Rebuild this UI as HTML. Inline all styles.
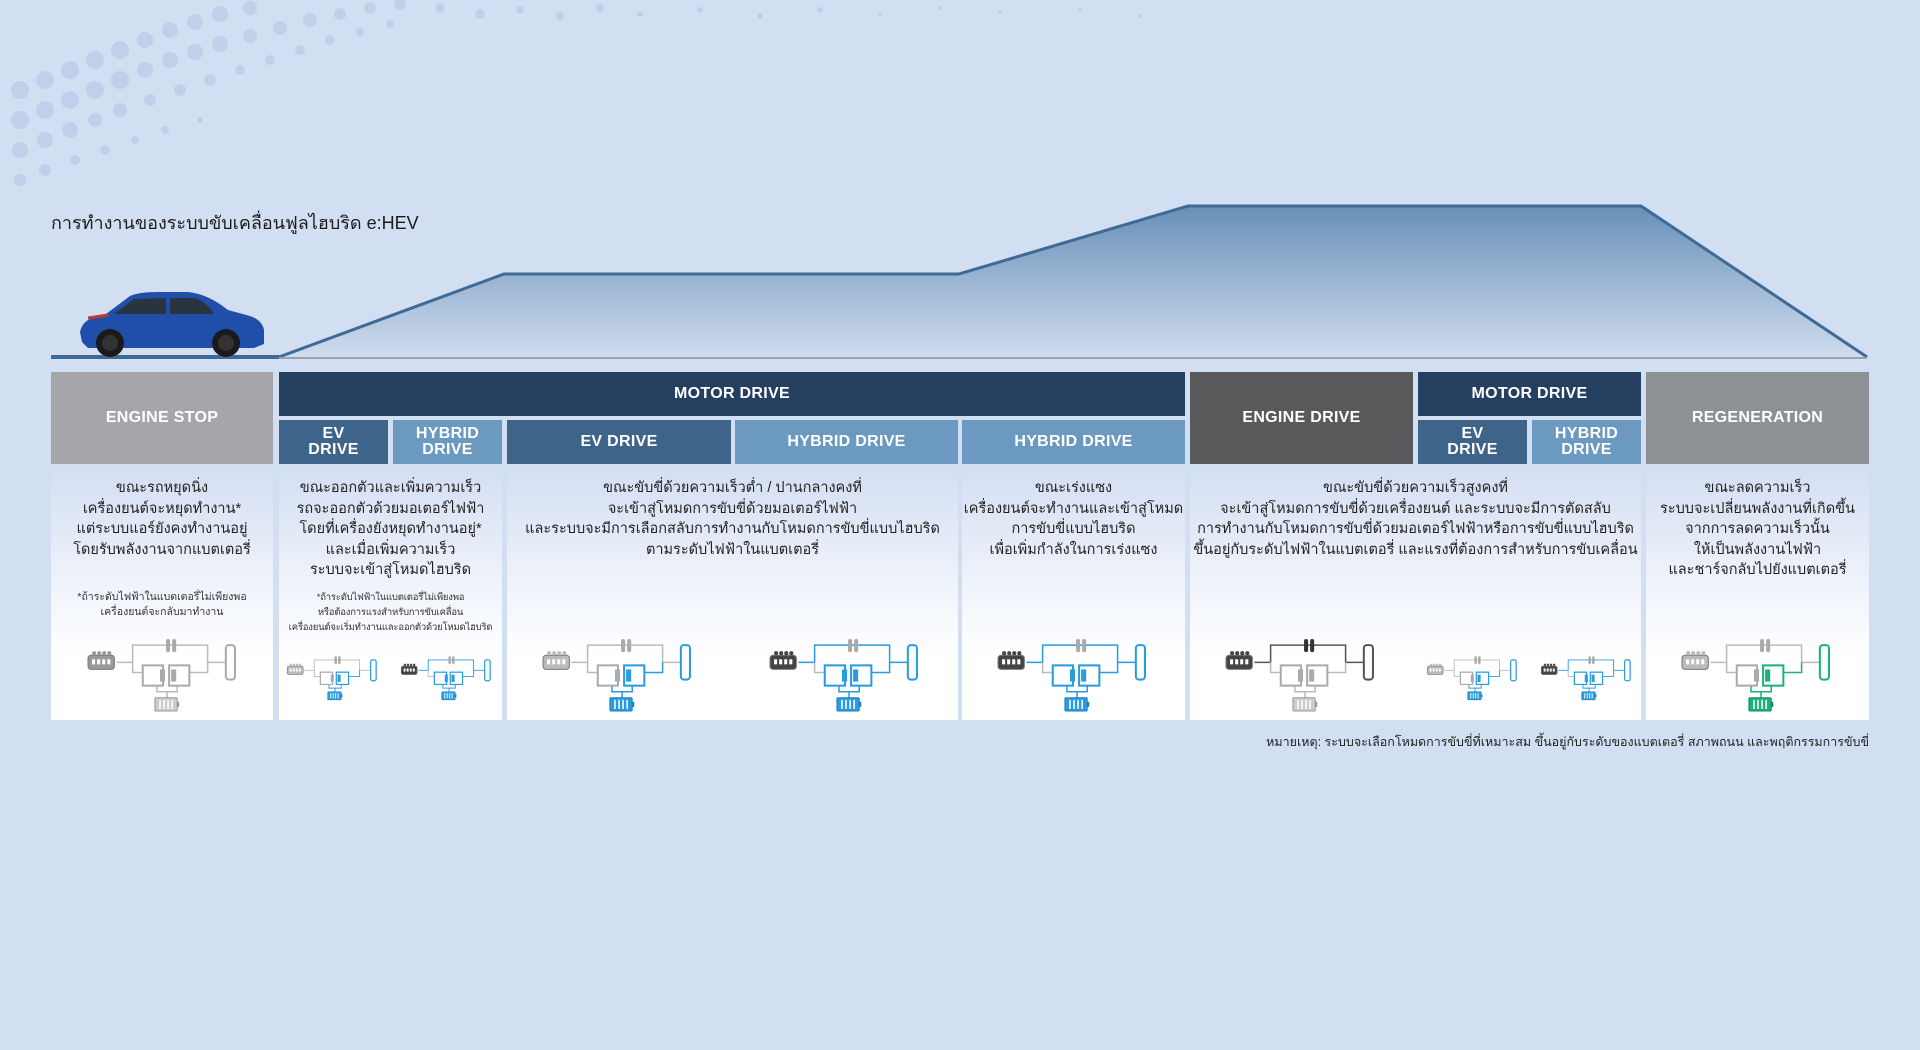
<!DOCTYPE html>
<html><head><meta charset="utf-8">
<style>
*{margin:0;padding:0;box-sizing:border-box}
body{width:1920px;height:1050px;background:#d2def2;position:relative;overflow:hidden;font-family:"Liberation Sans","DejaVu Sans",sans-serif}
.a{position:absolute}
.h{position:absolute;color:#fff;font-weight:bold;display:flex;align-items:center;justify-content:center;text-align:center;font-size:16px;line-height:16px;letter-spacing:.3px}
.c{position:absolute;top:464px;height:256px;background:linear-gradient(#d2def2 0%,#eef2fa 45%,#fff 75%,#fff 100%)}
.t{position:absolute;left:0;right:0;top:14px;text-align:center;font-size:14.5px;line-height:20.5px;color:#222}
.n{position:absolute;left:0;right:0;text-align:center;font-size:10.5px;line-height:15px;color:#333}
svg.d{position:absolute}
</style></head><body>
<svg class="a" style="left:0;top:0" width="1200" height="240">
<g fill="#bccde9" opacity=".8">
<circle cx="20" cy="120" r="9"/><circle cx="45" cy="110" r="9"/><circle cx="70" cy="100" r="9"/><circle cx="95" cy="90" r="9"/><circle cx="120" cy="80" r="9"/><circle cx="145" cy="70" r="8"/><circle cx="170" cy="60" r="8"/><circle cx="195" cy="52" r="8"/><circle cx="220" cy="44" r="8"/><circle cx="250" cy="36" r="7"/><circle cx="280" cy="28" r="7"/><circle cx="310" cy="20" r="7"/><circle cx="340" cy="14" r="6"/><circle cx="370" cy="8" r="6"/><circle cx="400" cy="4" r="6"/>
<circle cx="20" cy="150" r="8"/><circle cx="45" cy="140" r="8"/><circle cx="70" cy="130" r="8"/><circle cx="95" cy="120" r="7"/><circle cx="120" cy="110" r="7"/><circle cx="150" cy="100" r="6"/><circle cx="180" cy="90" r="6"/><circle cx="210" cy="80" r="6"/><circle cx="240" cy="70" r="5"/><circle cx="270" cy="60" r="5"/><circle cx="300" cy="50" r="5"/><circle cx="330" cy="40" r="5"/><circle cx="360" cy="32" r="4"/><circle cx="390" cy="24" r="4"/>
<circle cx="20" cy="180" r="6"/><circle cx="45" cy="170" r="6"/><circle cx="75" cy="160" r="5"/><circle cx="105" cy="150" r="5"/><circle cx="135" cy="140" r="4"/><circle cx="165" cy="130" r="4"/><circle cx="200" cy="120" r="3"/>
<circle cx="20" cy="90" r="9"/><circle cx="45" cy="80" r="9"/><circle cx="70" cy="70" r="9"/><circle cx="95" cy="60" r="9"/><circle cx="120" cy="50" r="9"/><circle cx="145" cy="40" r="8"/><circle cx="170" cy="30" r="8"/><circle cx="195" cy="22" r="8"/><circle cx="220" cy="14" r="8"/><circle cx="250" cy="8" r="7"/>
<circle cx="440" cy="8" r="5"/><circle cx="480" cy="14" r="5"/><circle cx="520" cy="10" r="4"/><circle cx="560" cy="16" r="4"/><circle cx="600" cy="8" r="4"/><circle cx="640" cy="14" r="3"/><circle cx="700" cy="10" r="3"/><circle cx="760" cy="16" r="3"/><circle cx="820" cy="10" r="3"/><circle cx="880" cy="14" r="2"/><circle cx="940" cy="8" r="2"/><circle cx="1000" cy="12" r="2"/><circle cx="1080" cy="10" r="2"/><circle cx="1140" cy="16" r="2"/>
</g></svg>
<div class="a" style="left:51px;top:208px;font-size:18px;color:#1c1c1c">การทำงานของระบบขับเคลื่อนฟูลไฮบริด e:HEV</div>

<svg class="a" style="left:0;top:190px" width="1920" height="180">
<defs><linearGradient id="m" x1="0" y1="0" x2="0" y2="1"><stop offset="0" stop-color="#6790b8"/><stop offset="1" stop-color="#d0dcef"/></linearGradient></defs>
<path d="M279 167 L504 84 L959 84 L1188 16 L1641 16 L1867 167 Z" fill="url(#m)"/>
<path d="M279 167 L504 84 L959 84 L1188 16 L1641 16 L1867 167" fill="none" stroke="#3e6a95" stroke-width="3"/>
<line x1="51" y1="167" x2="279" y2="167" stroke="#3e6a95" stroke-width="4"/>
<line x1="279" y1="168" x2="1867" y2="168" stroke="#9aa3ad" stroke-width="2"/>
<g transform="translate(78,100)">
<path d="M4 52 L2 42 Q4 32 14 28 L28 24 L52 6 Q60 2 80 2 L110 2 Q130 4 150 20 L172 26 Q184 30 186 40 L186 54 L176 58 L10 58 Z" fill="#1f4fa8"/>
<path d="M36 24 L56 9 L88 8 L88 24 Z" fill="#2a3340"/><path d="M92 8 L118 8 Q130 14 136 24 L92 24 Z" fill="#2a3340"/>
<path d="M10 28 L30 25" stroke="#c0392b" stroke-width="3"/>
<circle cx="32" cy="53" r="14" fill="#1a1a1a"/><circle cx="32" cy="53" r="8" fill="#333"/>
<circle cx="148" cy="53" r="14" fill="#1a1a1a"/><circle cx="148" cy="53" r="8" fill="#333"/>
</g>
</svg>

<div class="h" style="left:51px;top:372px;width:222px;height:92px;background:#a4a6a9">ENGINE STOP</div>
<div class="h" style="left:279px;top:372px;width:906px;height:44px;background:#253f60">MOTOR DRIVE</div>
<div class="h" style="left:279px;top:420px;width:109px;height:44px;background:#3f6489">EV<br>DRIVE</div>
<div class="h" style="left:393px;top:420px;width:109px;height:44px;background:#6c99bf">HYBRID<br>DRIVE</div>
<div class="h" style="left:507px;top:420px;width:224px;height:44px;background:#3f6489">EV DRIVE</div>
<div class="h" style="left:735px;top:420px;width:223px;height:44px;background:#6c99bf">HYBRID DRIVE</div>
<div class="h" style="left:962px;top:420px;width:223px;height:44px;background:#6c99bf">HYBRID DRIVE</div>
<div class="h" style="left:1190px;top:372px;width:223px;height:92px;background:#58595b">ENGINE DRIVE</div>
<div class="h" style="left:1418px;top:372px;width:223px;height:44px;background:#253f60">MOTOR DRIVE</div>
<div class="h" style="left:1418px;top:420px;width:109px;height:44px;background:#3f6489">EV<br>DRIVE</div>
<div class="h" style="left:1532px;top:420px;width:109px;height:44px;background:#6c99bf">HYBRID<br>DRIVE</div>
<div class="h" style="left:1646px;top:372px;width:223px;height:92px;background:#8e9194">REGENERATION</div>

<div class="c" style="left:51px;width:222px"><div class="t">ขณะรถหยุดนิ่ง<br>เครื่องยนต์จะหยุดทำงาน*<br>แต่ระบบแอร์ยังคงทำงานอยู่<br>โดยรับพลังงานจากแบตเตอรี่</div>
<div class="n" style="top:126px">*ถ้าระดับไฟฟ้าในแบตเตอรี่ไม่เพียงพอ<br>เครื่องยนต์จะกลับมาทำงาน</div></div>
<div class="c" style="left:279px;width:223px"><div class="t">ขณะออกตัวและเพิ่มความเร็ว<br>รถจะออกตัวด้วยมอเตอร์ไฟฟ้า<br>โดยที่เครื่องยังหยุดทำงานอยู่*<br>และเมื่อเพิ่มความเร็ว<br>ระบบจะเข้าสู่โหมดไฮบริด</div>
<div class="n" style="top:126px;font-size:9.5px;letter-spacing:-.2px;white-space:nowrap">*ถ้าระดับไฟฟ้าในแบตเตอรี่ไม่เพียงพอ<br>หรือต้องการแรงสำหรับการขับเคลื่อน<br>เครื่องยนต์จะเริ่มทำงานและออกตัวด้วยโหมดไฮบริด</div></div>
<div class="c" style="left:507px;width:451px"><div class="t">ขณะขับขี่ด้วยความเร็วต่ำ / ปานกลางคงที่<br>จะเข้าสู่โหมดการขับขี่ด้วยมอเตอร์ไฟฟ้า<br>และระบบจะมีการเลือกสลับการทำงานกับโหมดการขับขี่แบบไฮบริด<br>ตามระดับไฟฟ้าในแบตเตอรี่</div></div>
<div class="c" style="left:962px;width:223px"><div class="t">ขณะเร่งแซง<br>เครื่องยนต์จะทำงานและเข้าสู่โหมด<br>การขับขี่แบบไฮบริด<br>เพื่อเพิ่มกำลังในการเร่งแซง</div></div>
<div class="c" style="left:1190px;width:451px"><div class="t">ขณะขับขี่ด้วยความเร็วสูงคงที่<br>จะเข้าสู่โหมดการขับขี่ด้วยเครื่องยนต์ และระบบจะมีการตัดสลับ<br>การทำงานกับโหมดการขับขี่ด้วยมอเตอร์ไฟฟ้าหรือการขับขี่แบบไฮบริด<br>ขึ้นอยู่กับระดับไฟฟ้าในแบตเตอรี่ และแรงที่ต้องการสำหรับการขับเคลื่อน</div></div>
<div class="c" style="left:1646px;width:223px"><div class="t">ขณะลดความเร็ว<br>ระบบจะเปลี่ยนพลังงานที่เกิดขึ้น<br>จากการลดความเร็วนั้น<br>ให้เป็นพลังงานไฟฟ้า<br>และชาร์จกลับไปยังแบตเตอรี่</div></div>

<div class="a" style="right:51px;top:732px;font-size:12.5px;color:#222">หมายเหตุ: ระบบจะเลือกโหมดการขับขี่ที่เหมาะสม ขึ้นอยู่กับระดับของแบตเตอรี่ สภาพถนน และพฤติกรรมการขับขี่</div>

<svg width="0" height="0" style="position:absolute"><defs>
<symbol id="dg" viewBox="0 0 150 75">
<path d="M30 25 H46 V8 H120 V25 H138" fill="none" stroke="var(--lt,#bbb)" stroke-width="1.5"/>
<path d="M100 35 H120 V25" fill="none" stroke="var(--lw,#bbb)" stroke-width="1.5"/>
<path d="M46 25 V35 H55" fill="none" stroke="#bbb" stroke-width="1.5"/>
<path d="M70 48 V54 H90 V48 M80 54 V60" fill="none" stroke="var(--lb,#bbb)" stroke-width="1.5"/>
<rect x="2" y="18" width="26" height="14" rx="3" fill="var(--e,#999)" stroke="#777"/>
<g fill="#fff"><rect x="6" y="22" width="3" height="5"/><rect x="11" y="22" width="3" height="5"/><rect x="16" y="22" width="3" height="5"/><rect x="21" y="22" width="3" height="5"/></g>
<g fill="var(--e,#999)"><circle cx="8" cy="16" r="2"/><circle cx="13" cy="16" r="2"/><circle cx="18" cy="16" r="2"/><circle cx="23" cy="16" r="2"/></g>
<rect x="79" y="2" width="4" height="13" rx="2" fill="var(--cl,#aaa)"/><rect x="85" y="2" width="4" height="13" rx="2" fill="var(--cl,#aaa)"/>
<rect x="56" y="28" width="20" height="20" fill="#fff" stroke="var(--m1,#aaa)" stroke-width="2"/><rect x="73" y="32" width="5" height="12" fill="var(--m1,#aaa)"/>
<rect x="82" y="28" width="20" height="20" fill="#fff" stroke="var(--m2,#aaa)" stroke-width="2"/><rect x="84" y="32" width="5" height="12" fill="var(--m2,#aaa)"/>
<rect x="138" y="8" width="9" height="34" rx="3" fill="#fff" stroke="var(--w,#aaa)" stroke-width="2"/>
<rect x="68" y="60" width="22" height="13" rx="1" fill="var(--b,#ccc)" stroke="var(--bs,#999)"/><rect x="90" y="64" width="2" height="5" fill="var(--bs,#999)"/>
<g stroke="#fff" stroke-width="1.5"><line x1="73" y1="62" x2="73" y2="71"/><line x1="77" y1="62" x2="77" y2="71"/><line x1="81" y1="62" x2="81" y2="71"/><line x1="85" y1="62" x2="85" y2="71"/></g>
</symbol></defs></svg>

<svg class="d" style="left:86px;top:637px" width="152" height="76"><use href="#dg"/></svg>
<svg class="d" style="left:286px;top:655px;--e:#bbb;--m2:#2a9be0;--w:#2a9be0;--lw:#2a9be0;--b:#2a9be0;--bs:#1f7fc0;--lb:#2a9be0" width="92" height="46"><use href="#dg"/></svg>
<svg class="d" style="left:400px;top:655px;--e:#444;--m1:#2a9be0;--m2:#2a9be0;--w:#2a9be0;--lw:#2a9be0;--b:#2a9be0;--bs:#1f7fc0;--lb:#2a9be0;--lt:#2a9be0" width="92" height="46"><use href="#dg"/></svg>
<svg class="d" style="left:541px;top:637px;--e:#bbb;--m2:#2a9be0;--w:#2a9be0;--lw:#2a9be0;--b:#2a9be0;--bs:#1f7fc0;--lb:#2a9be0" width="152" height="76"><use href="#dg"/></svg>
<svg class="d" style="left:768px;top:637px;--e:#444;--m1:#2a9be0;--m2:#2a9be0;--w:#2a9be0;--lw:#2a9be0;--b:#2a9be0;--bs:#1f7fc0;--lb:#2a9be0;--lt:#2a9be0" width="152" height="76"><use href="#dg"/></svg>
<svg class="d" style="left:996px;top:637px;--e:#444;--m1:#2a9be0;--m2:#2a9be0;--w:#2a9be0;--lw:#2a9be0;--b:#2a9be0;--bs:#1f7fc0;--lb:#2a9be0;--lt:#2a9be0" width="152" height="76"><use href="#dg"/></svg>
<svg class="d" style="left:1224px;top:637px;--e:#444;--cl:#333;--w:#555;--lt:#555" width="152" height="76"><use href="#dg"/></svg>
<svg class="d" style="left:1426px;top:655px;--e:#bbb;--m2:#2a9be0;--w:#2a9be0;--lw:#2a9be0;--b:#2a9be0;--bs:#1f7fc0;--lb:#2a9be0" width="92" height="46"><use href="#dg"/></svg>
<svg class="d" style="left:1540px;top:655px;--e:#444;--m1:#2a9be0;--m2:#2a9be0;--w:#2a9be0;--lw:#2a9be0;--b:#2a9be0;--bs:#1f7fc0;--lb:#2a9be0;--lt:#2a9be0" width="92" height="46"><use href="#dg"/></svg>
<svg class="d" style="left:1680px;top:637px;--e:#bbb;--m2:#1ab27a;--w:#1ab27a;--lw:#1ab27a;--b:#1ab27a;--bs:#128a5e;--lb:#1ab27a" width="152" height="76"><use href="#dg"/></svg>
</body></html>
